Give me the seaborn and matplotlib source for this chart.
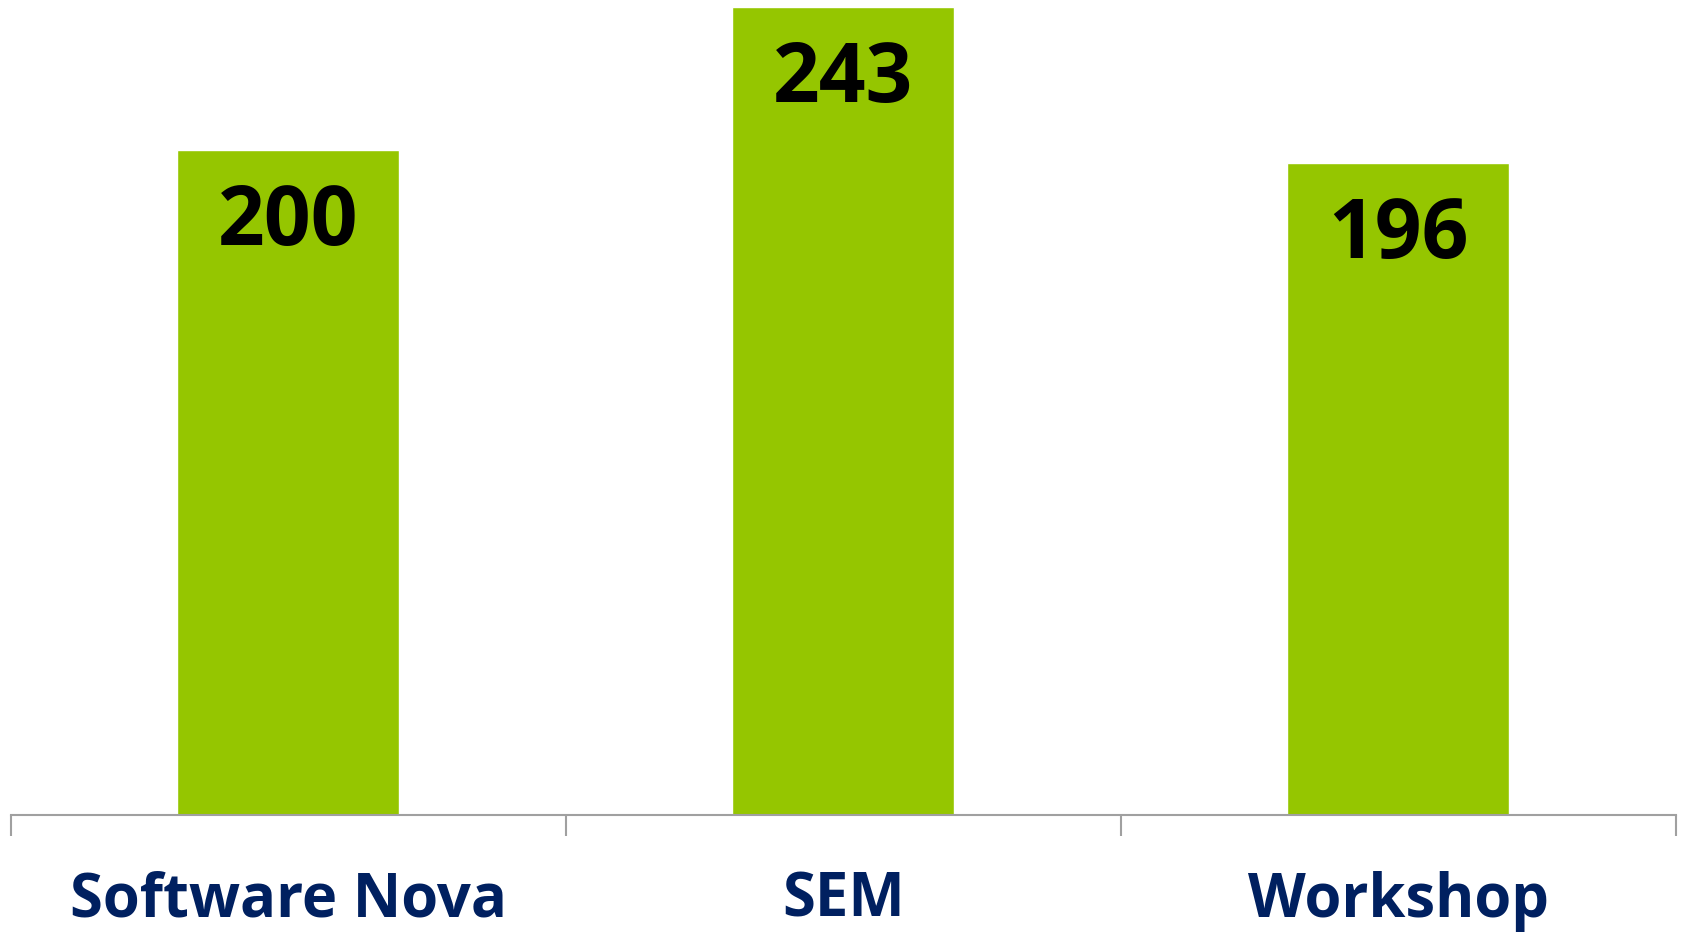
import numpy as np
import pandas as pd
import matplotlib
matplotlib.use("Agg")
import matplotlib.pyplot as plt
import seaborn as sns

# data
categories = ["Software Nova", "SEM", "Workshop"]
values = [200, 243, 196]

df = pd.DataFrame({"category": categories, "value": values})

sns.set_style("white")
plt.rcParams['font.family'] = ['Open Sans', 'DejaVu Sans']

fig = plt.figure(figsize=(16.83, 9.32), dpi=100)
ax = fig.add_axes([11 / 1683, 117 / 932, 1665 / 1683, 815 / 932])

sns.barplot(
    x='category',
    y='value',
    data=df,
    color='#95C600',
    saturation=1,
    width=0.4,
    ax=ax
)

ax.set_xlim(-0.5, len(categories) - 0.5)
ax.set_ylim(0, 245)

# value labels inside the bars
for i, v in enumerate(values):
    ax.annotate(
        str(v),
        xy=(i, v),
        xytext=(0, -23),
        textcoords='offset points',
        ha='center',
        va='top',
        fontsize=59,
        fontweight='bold',
        color='black'
    )

for s in ['top', 'left', 'right']:
    ax.spines[s].set_visible(False)
ax.spines['bottom'].set_color('#A0A0A0')
ax.spines['bottom'].set_linewidth(1.5)

ax.set_yticks([])
ax.set_xticks(range(len(categories)))
ax.set_xticklabels(categories, fontsize=43, fontweight='bold', color='#002060')
ax.tick_params(axis='x', which='major', bottom=False, length=0, pad=40)
ax.set_xticks(np.arange(-0.5, len(categories)), minor=True)
ax.tick_params(axis='x', which='minor', bottom=True, length=15, width=1.5,
               color='#A0A0A0', direction='out')

ax.set_xlabel("")
ax.set_ylabel("")

fig.savefig("out.png", dpi=100)
